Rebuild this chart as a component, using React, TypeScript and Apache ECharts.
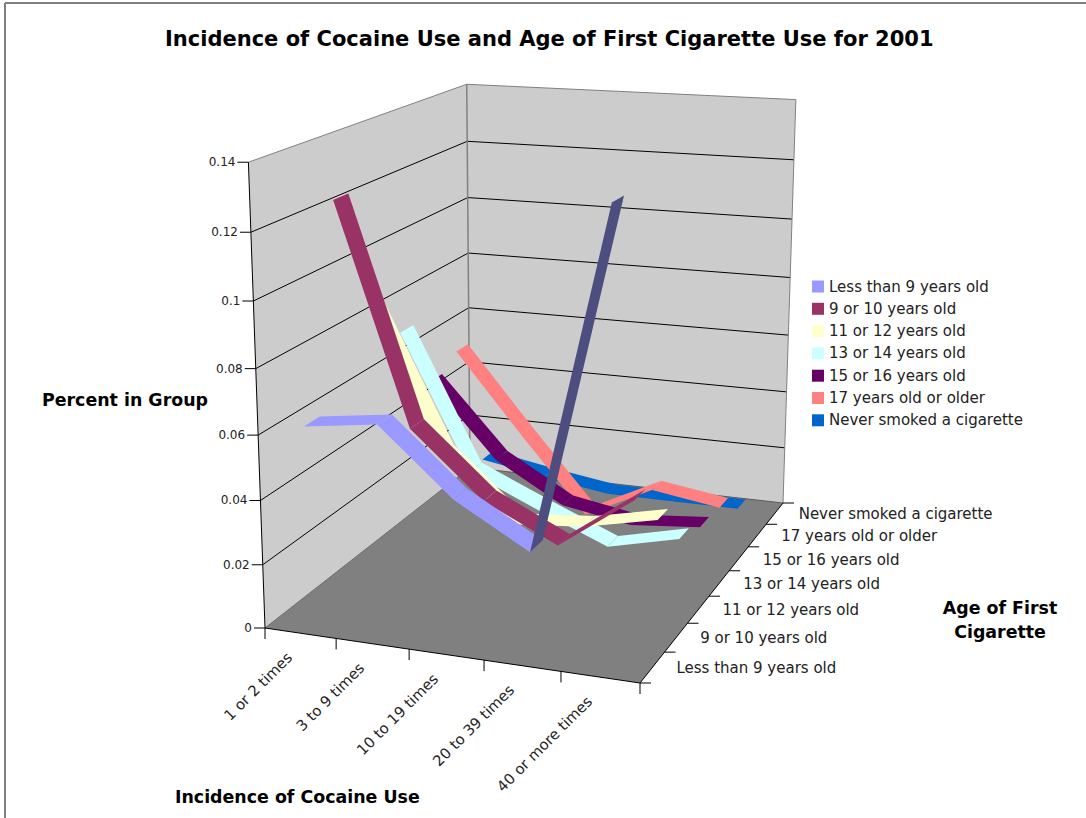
import React, { useEffect, useRef } from "react";
import * as echarts from "echarts";

const FONT = '"DejaVu Sans", Verdana, sans-serif';

const useCategories = ["1 or 2 times", "3 to 9 times", "10 to 19 times", "20 to 39 times", "40 or more times"];
const ageGroups = [
  "Less than 9 years old",
  "9 or 10 years old",
  "11 or 12 years old",
  "13 or 14 years old",
  "15 or 16 years old",
  "17 years old or older",
  "Never smoked a cigarette",
];
const colors = ["#9999FF", "#993366", "#FFFFCC", "#CCFFFF", "#660066", "#FF8080", "#0066CC"];

const lessThan9 = [0.062, 0.065, 0.045, 0.032, 0.134];
const age9to10 = [0.1245, 0.057, 0.037, 0.026, 0.0427];
const age11to12 = [0.087, 0.042, 0.022, 0.024, 0.029];
const age13to14 = [0.073, 0.029, 0.019, 0.0095, 0.015];
const age15to16 = [0.0505, 0.026, 0.013, 0.009, 0.011];
const age17plus = [0.055, 0.028, 0.002, 0.0135, 0.01];
const neverSmoked = [0.0095, 0.0055, 0.002, 0.002, 0.002];
const seriesValues = [lessThan9, age9to10, age11to12, age13to14, age15to16, age17plus, neverSmoked];

const yTicks = [0, 0.02, 0.04, 0.06, 0.08, 0.1, 0.12, 0.14];
const yMax = 0.14;

// Where the corners of the plot box land on the page.
const floorCorners = [[265, 628], [640, 683], [783, 503], [470, 467.5]];
const topCorners = [
  { u: 0, v: 0, p: [248.5, 161.5] },
  { u: 0, v: 1, p: [466.5, 84] },
  { u: 1, v: 1, p: [796, 100.5] },
];
const RIBBON_WIDTH = 0.45; // share of a depth band

// The hidden grid gives every value a normalised place through the axis scales.
const GRID = { left: 0, top: 0, width: 1000, height: 700 };

function solve3(m: number[][], r: number[]) {
  const det = (a: number[][]) =>
    a[0][0] * (a[1][1] * a[2][2] - a[1][2] * a[2][1]) -
    a[0][1] * (a[1][0] * a[2][2] - a[1][2] * a[2][0]) +
    a[0][2] * (a[1][0] * a[2][1] - a[1][1] * a[2][0]);
  const d = det(m);
  return [0, 1, 2].map((c) => det(m.map((row, i) => row.map((val, j) => (j === c ? r[i] : val)))) / d);
}

function buildProjection() {
  const [p0, p1, p2, p3] = floorCorners;
  const dx1 = p1[0] - p2[0], dx2 = p3[0] - p2[0], sx = p0[0] - p1[0] + p2[0] - p3[0];
  const dy1 = p1[1] - p2[1], dy2 = p3[1] - p2[1], sy = p0[1] - p1[1] + p2[1] - p3[1];
  const den = dx1 * dy2 - dx2 * dy1;
  const g = (sx * dy2 - dx2 * sy) / den;
  const h = (dx1 * sy - sx * dy1) / den;
  const a = p1[0] - p0[0] + g * p1[0], b = p3[0] - p0[0] + h * p3[0], c = p0[0];
  const d = p1[1] - p0[1] + g * p1[1], e = p3[1] - p0[1] + h * p3[1], f = p0[1];
  const floor = (u: number, v: number) => [a * u + b * v + c, d * u + e * v + f, g * u + h * v + 1];

  // Least-squares fit of the vertical column of the projective matrix.
  const rows: number[][] = [];
  const rhs: number[] = [];
  topCorners.forEach(({ u, v, p }) => {
    const w = floor(u, v);
    rows.push([1, 0, -p[0]]);
    rhs.push(p[0] * w[2] - w[0]);
    rows.push([0, 1, -p[1]]);
    rhs.push(p[1] * w[2] - w[1]);
  });
  const ata = [0, 1, 2].map((i) => [0, 1, 2].map((j) => rows.reduce((s, r) => s + r[i] * r[j], 0)));
  const atb = [0, 1, 2].map((i) => rows.reduce((s, r, k) => s + r[i] * rhs[k], 0));
  const col = solve3(ata, atb);

  return (u: number, v: number, z: number) => {
    const w = floor(u, v);
    const q = w[2] + col[2] * z;
    return [(w[0] + col[0] * z) / q, (w[1] + col[1] * z) / q];
  };
}

const project = buildProjection();

function shade(hex: string, k: number) {
  const n = parseInt(hex.slice(1), 16);
  const ch = (s: number) => Math.round(((n >> s) & 255) * k);
  return `rgb(${ch(16)},${ch(8)},${ch(0)})`;
}

function normalised(api: any, i: number, value: number) {
  const pt = api.coord([i, value]);
  return { u: (pt[0] - GRID.left) / GRID.width, z: (GRID.top + GRID.height - pt[1]) / GRID.height };
}

const ribbonRenderer = (seriesIdx: number) => (params: any, api: any) => {
  const i = params.dataIndex;
  if (i === 0) return null;
  const values = seriesValues[seriesIdx];
  const a = normalised(api, i - 1, values[i - 1]);
  const b = normalised(api, i, values[i]);
  const near = (seriesIdx + 0.5 - RIBBON_WIDTH / 2) / ageGroups.length;
  const far = (seriesIdx + 0.5 + RIBBON_WIDTH / 2) / ageGroups.length;
  const pts = [project(a.u, near, a.z), project(a.u, far, a.z), project(b.u, far, b.z), project(b.u, near, b.z)];
  let area = 0;
  pts.forEach((p, k) => {
    const q = pts[(k + 1) % 4];
    area += p[0] * q[1] - q[0] * p[1];
  });
  // A ribbon seen from below shows its darker underside.
  const fill = area > 0 ? colors[seriesIdx] : shade(colors[seriesIdx], 0.5);
  return { type: "polygon", shape: { points: pts }, style: { fill }, silent: true };
};

const line = (p: number[], q: number[], stroke: string, lineWidth = 1) => ({
  type: "line",
  shape: { x1: p[0], y1: p[1], x2: q[0], y2: q[1] },
  style: { stroke, lineWidth },
  silent: true,
});

const label = (text: string, x: number, y: number, size: number, align: string, rotation = 0) => ({
  type: "text",
  x,
  y,
  rotation,
  silent: true,
  style: { text, fill: "#222", font: `${size}px ${FONT}`, align, verticalAlign: "middle" },
});

const frameRenderer = (params: any, api: any) => {
  if (params.dataIndex !== 0) return null;
  const GREY = "#808080";
  const children: any[] = [];
  const z = (t: number) => {
    const pt = api.coord([0, t]);
    return (GRID.top + GRID.height - pt[1]) / GRID.height;
  };
  const poly = (pts: number[][], fill: string) => ({ type: "polygon", shape: { points: pts }, style: { fill }, silent: true });

  const fl = project(0, 0, 0), fr = project(1, 0, 0), br = project(1, 1, 0), bl = project(0, 1, 0);
  const flT = project(0, 0, 1), brT = project(1, 1, 1), blT = project(0, 1, 1);

  children.push(poly([fl, flT, blT, bl], "#CCCCCC"));
  children.push(poly([bl, blT, brT, br], "#CCCCCC"));
  children.push(poly([fl, fr, br, bl], "#808080"));

  yTicks.slice(1, -1).forEach((t) => {
    const zz = z(t);
    children.push(line(project(0, 0, zz), project(0, 1, zz), "#000"));
    children.push(line(project(0, 1, zz), project(1, 1, zz), "#000"));
  });
  children.push(line(flT, blT, GREY), line(blT, brT, GREY), line(brT, br, GREY), line(blT, bl, GREY, 1.5));
  children.push(line(fl, bl, "#6e6e6e"), line(bl, br, "#5a5a5a"));
  children.push(line(fl, flT, "#000"), line(fl, fr, "#000"), line(fr, br, "#000"));

  yTicks.forEach((t) => {
    const p = project(0, 0, z(t));
    children.push(line([p[0] - 11, p[1]], p, "#000"));
    children.push(label(String(t), p[0] - 13, p[1], 12, "right"));
  });

  useCategories.forEach((name, i) => {
    const tick = project(i / useCategories.length, 0, 0);
    children.push(line(tick, [tick[0], tick[1] + 11], "#000"));
    const mid = project((i + 0.5) / useCategories.length, 0, 0);
    children.push(label(name, mid[0] - 11, mid[1] + 21.5, 14.8, "right", Math.PI / 4));
  });
  children.push(line(fr, [fr[0], fr[1] + 11], "#000"));

  ageGroups.forEach((name, j) => {
    const tick = project(1, j / ageGroups.length, 0);
    children.push(line(tick, [tick[0] + 11, tick[1]], "#000"));
    const mid = project(1, (j + 0.5) / ageGroups.length, 0);
    children.push(label(name, mid[0] + 24, mid[1] + 1, 15, "left"));
  });
  children.push(line(br, [br[0] + 11, br[1]], "#000"));

  return { type: "group", children };
};

const axisTitle = (text: string, x: number, y: number, align = "left") => ({
  type: "text",
  x,
  y,
  silent: true,
  style: { text, fill: "#000", font: `bold 17.4px ${FONT}`, align, verticalAlign: "middle" },
});

export default function App() {
  const ref = useRef<HTMLDivElement>(null);
  useEffect(() => {
    const chart = echarts.init(ref.current!, undefined, { renderer: "svg" });
    chart.setOption({
      animation: false,
      backgroundColor: "#fff",
      title: {
        text: "Incidence of Cocaine Use and Age of First Cigarette Use for 2001",
        left: 160,
        top: 23,
        textStyle: { fontFamily: FONT, fontSize: 21, fontWeight: "bold", color: "#000" },
      },
      grid: { ...GRID, show: false },
      xAxis: { type: "category", data: useCategories, show: false },
      yAxis: { type: "value", min: 0, max: yMax, interval: 0.02, show: false },
      legend: {
        orient: "vertical",
        left: 807,
        top: 274,
        itemWidth: 12,
        itemHeight: 12,
        itemGap: 7.3,
        icon: "rect",
        data: ageGroups,
        textStyle: { fontFamily: FONT, fontSize: 15, color: "#222" },
        selectedMode: false,
      },
      graphic: [
        { type: "line", shape: { x1: 5, y1: 3, x2: 1086, y2: 3 }, style: { stroke: "#808080", lineWidth: 2 }, silent: true },
        { type: "line", shape: { x1: 5, y1: 3, x2: 5, y2: 818 }, style: { stroke: "#808080", lineWidth: 2 }, silent: true },
        axisTitle("Percent in Group", 42, 400),
        axisTitle("Incidence of Cocaine Use", 175, 797),
        axisTitle("Age of First", 1000, 608, "center"),
        axisTitle("Cigarette", 1000, 632, "center"),
      ],
      series: [
        {
          type: "custom",
          name: "frame",
          renderItem: frameRenderer,
          data: useCategories.map((_, i) => [i, 0]),
          clip: false,
          z: 1,
          silent: true,
        },
        // Farthest group first, so nearer ribbons paint over it.
        ...ageGroups
          .map((name, j) => ({
            type: "custom",
            name,
            renderItem: ribbonRenderer(j),
            itemStyle: { color: colors[j] },
            data: seriesValues[j].map((v, i) => [i, v]),
            clip: false,
            silent: true,
            z: 2 + ageGroups.length - j,
          })),
      ],
    });
    return () => chart.dispose();
  }, []);
  return <div ref={ref} style={{ position: "absolute", left: 0, top: 0, width: 1086, height: 818 }} />;
}
